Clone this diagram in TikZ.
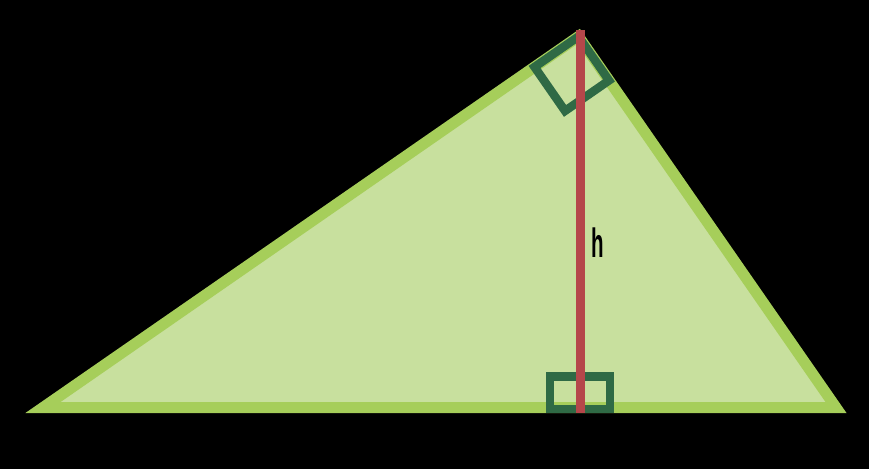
\documentclass[tikz,border=0pt]{standalone}
\usepackage{fontspec}
\setmainfont{Liberation Sans}
\usetikzlibrary{calc}
\definecolor{trifill}{RGB}{200,224,158}
\definecolor{tristroke}{RGB}{166,206,90}
\definecolor{sqgreen}{RGB}{47,106,69}
\definecolor{hred}{RGB}{181,71,74}
\tikzset{
  tri/.style={fill=trifill, draw=tristroke, line width=11pt, line join=miter},
  rightmark/.style={draw=sqgreen, line width=8.5pt, line join=miter},
  heightline/.style={draw=hred, line width=8.5pt},
}
\begin{document}
\begin{tikzpicture}[x=1pt,y=-1pt]
\fill[black] (0,0) rectangle (869,469);
\useasboundingbox (0,0) rectangle (869,469);
\coordinate (L) at (43,407.5);
\coordinate (R) at (836,407.5);
\coordinate (A) at (578.5,36.5);
\draw[tri] (L) -- (A) -- (R) -- cycle;
% right-angle mark at apex
\coordinate (c1) at ($(A)!53.5pt!(L)$);
\coordinate (c2) at ($(A)!53.5pt!(R)$);
\coordinate (c3) at ($(c1)+(c2)-(A)$);
\draw[rightmark] (A) -- (c1) -- (c3) -- (c2) -- cycle;
% right-angle mark at foot
\coordinate (f1) at (550,376.5);
\coordinate (f2) at (610,409);
\draw[rightmark] (f1) rectangle (f2);
% height
\coordinate (htop) at (580.5,30);
\coordinate (hbot) at (580.5,413);
\draw[heightline] (htop) -- (hbot);
\node[anchor=base, inner sep=0pt] (hlabel) at (598,257) {\scalebox{0.5}[1]{\fontsize{41}{41}\selectfont\bfseries h}};
\end{tikzpicture}
\end{document}
